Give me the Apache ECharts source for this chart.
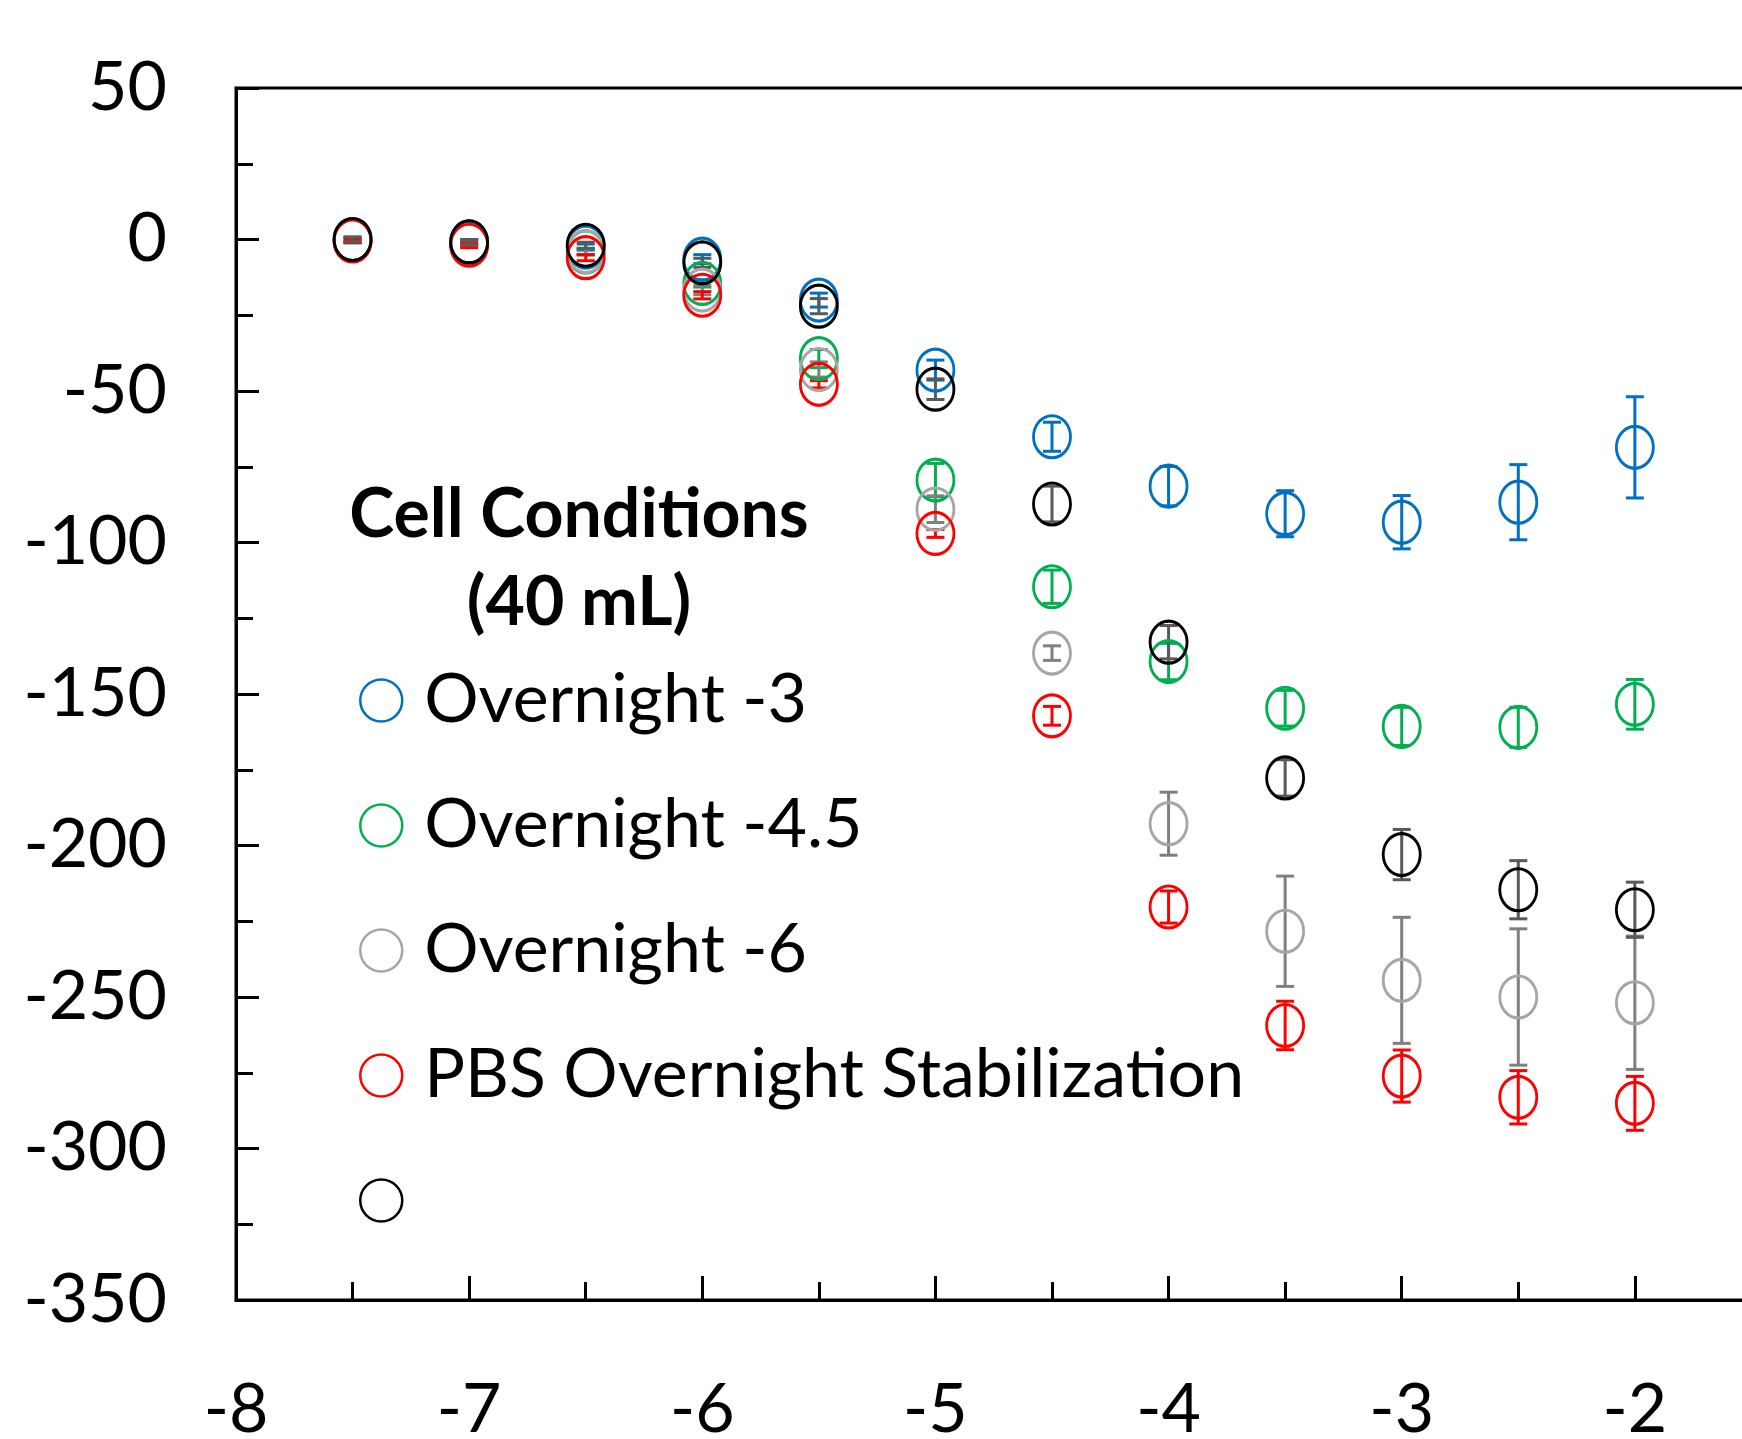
<!DOCTYPE html>
<html>
<head>
<meta charset="utf-8">
<script src="https://cdn.jsdelivr.net/npm/echarts@6/dist/echarts.min.js"></script>
<style>
html,body{margin:0;padding:0;background:#fff;}
#chart{width:1742px;height:1439px;}
</style>
</head>
<body>
<div id="chart"></div>
<script>
const xValues = [-7.5, -7, -6.5, -6, -5.5, -5, -4.5, -4, -3.5, -3, -2.5, -2];

const seriesNames = ['Overnight -3', 'Overnight -4.5', 'Overnight -6', 'PBS Overnight Stabilization', ' '];

const overnight3 = [0, -0.8, -2.5, -6.5, -20.0, -43.1, -65.1, -81.4, -90.5, -93.3, -86.7, -68.6];
const overnight3Err = [0.8, 0.8, 1, 1.5, 2.3, 3.3, 4.8, 6.5, 7.6, 8.8, 12.4, 16.7];

const overnight45 = [-0.3, -1, -4.1, -14.5, -39.3, -79.4, -114.6, -139.3, -154.7, -160.7, -161.0, -153.4];
const overnight45Err = [0.8, 0.8, 1, 1.2, 3, 5.5, 5.5, 6, 5.9, 6.3, 6.6, 8.2];

const overnight6 = [-0.3, -1, -4, -16.7, -42.9, -89.0, -136.5, -192.8, -228.3, -244.5, -250.0, -251.9];
const overnight6Err = [0.8, 0.8, 1, 1.5, 2.5, 4.4, 2.4, 10.4, 18.2, 20.8, 22.5, 22.0];

const pbsStab = [-0.5, -1.9, -6.0, -18.4, -47.8, -97.0, -157.2, -220.3, -259.4, -276.1, -283.1, -285.1];
const pbsStabErr = [0.5, 0.8, 1, 1.2, 1.2, 1.3, 3.1, 5.3, 8.0, 8.6, 8.8, 8.9];

const unnamed = [0, -0.8, -1.9, -7.7, -22.0, -49.4, -87.3, -132.9, -177.7, -203.0, -214.6, -221.2];
const unnamedErr = [0.8, 0.8, 1, 1.5, 2.5, 3.4, 5.9, 5.5, 6.0, 8.3, 9.6, 9.1];

const yTickLabels = ['-350', '-300', '-250', '-200', '-150', '-100', '-50', '0', '50'];
const xTickLabels = ['-8', '-7', '-6', '-5', '-4', '-3', '-2'];

const markerColors = ['#0070C0', '#00B050', '#A6A6A6', '#FF0000', '#000000'];
const errorColors = ['#0070C0', '#00B050', '#7F7F7F', '#FF0000', '#595959'];

const means = [overnight3, overnight45, overnight6, pbsStab, unnamed];
const errs = [overnight3Err, overnight45Err, overnight6Err, pbsStabErr, unnamedErr];

const FONT = 'Lato, "Open Sans", sans-serif';
const ellipse = 'path://M0,-1A1,1 0 1,1 0,1A1,1 0 1,1 0,-1Z';

const series = [];
means.forEach(function (vals, i) {
  const errData = xValues.map(function (x, k) { return [x, vals[k], errs[i][k]]; });
  const ptData = xValues.map(function (x, k) { return [x, vals[k]]; });
  const ec = errorColors[i];
  series.push({
    type: 'custom',
    name: seriesNames[i] + '_err',
    data: errData,
    encode: { x: 0, y: 1 },
    silent: true,
    animation: false,
    renderItem: function (params, api) {
      const x = api.value(0), y = api.value(1), e = api.value(2);
      const hi = api.coord([x, y + e]);
      const lo = api.coord([x, y - e]);
      const hw = 9;
      const st = { stroke: ec, lineWidth: 3 };
      return {
        type: 'group',
        children: [
          { type: 'line', shape: { x1: hi[0], y1: hi[1], x2: lo[0], y2: lo[1] }, style: st },
          { type: 'line', shape: { x1: hi[0] - hw, y1: hi[1], x2: hi[0] + hw, y2: hi[1] }, style: st },
          { type: 'line', shape: { x1: lo[0] - hw, y1: lo[1], x2: lo[0] + hw, y2: lo[1] }, style: st }
        ]
      };
    }
  });
  series.push({
    type: 'scatter',
    name: seriesNames[i],
    data: ptData,
    symbol: ellipse,
    symbolSize: [37, 42],
    animation: false,
    itemStyle: { color: 'rgba(0,0,0,0)', borderColor: markerColors[i], borderWidth: 3, opacity: 1 },
    emphasis: { disabled: true }
  });
});

const chart = echarts.init(document.getElementById('chart'), null, { renderer: 'canvas' });
chart.setOption({
  backgroundColor: '#ffffff',
  animation: false,
  title: {
    text: 'Cell Conditions\n(40 mL)',
    left: 579,
    top: 471,
    padding: 0,
    textAlign: 'center',
    textStyle: { fontFamily: FONT, fontSize: 68, fontWeight: 'bold', color: '#000', lineHeight: 88 }
  },
  legend: {
    data: seriesNames.map(function (n) { return { name: n, icon: 'circle' }; }),
    orient: 'vertical',
    left: 359,
    top: 665,
    padding: 0,
    itemWidth: 76,
    itemHeight: 42,
    itemGap: 54,
    selectedMode: false,
    itemStyle: { borderWidth: 2.5 },
    textStyle: { fontFamily: FONT, fontSize: 68, color: '#000', lineHeight: 71 }
  },
  grid: {
    left: 236, top: 88, right: -126, bottom: 139,
    outerBoundsMode: 'none',
    containLabel: false,
    show: true, borderColor: '#000', borderWidth: 3, backgroundColor: 'transparent'
  },
  xAxis: {
    type: 'value',
    min: -8, max: -1, interval: 1,
    axisLine: { show: true, onZero: false, lineStyle: { color: '#000', width: 3 } },
    axisTick: { show: true, inside: true, length: 24, lineStyle: { color: '#000', width: 3 } },
    minorTick: { show: true, splitNumber: 2, length: 18, lineStyle: { color: '#000', width: 3 } },
    splitLine: { show: false },
    axisLabel: {
      margin: 76, fontFamily: FONT, fontSize: 68, color: '#000',
      formatter: function (v) { const s = String(v); return xTickLabels.indexOf(s) >= 0 ? s : ''; }
    }
  },
  yAxis: {
    type: 'value',
    min: -350, max: 50, interval: 50,
    axisLine: { show: true, onZero: false, lineStyle: { color: '#000', width: 3 } },
    axisTick: { show: true, inside: true, length: 23, lineStyle: { color: '#000', width: 3 } },
    minorTick: { show: true, splitNumber: 2, length: 17, lineStyle: { color: '#000', width: 3 } },
    splitLine: { show: false },
    axisLabel: {
      margin: 69, fontFamily: FONT, fontSize: 68, color: '#000',
      formatter: function (v) { const s = String(v); return yTickLabels.indexOf(s) >= 0 ? s : ''; }
    }
  },
  series: series
});
</script>
</body>
</html>
